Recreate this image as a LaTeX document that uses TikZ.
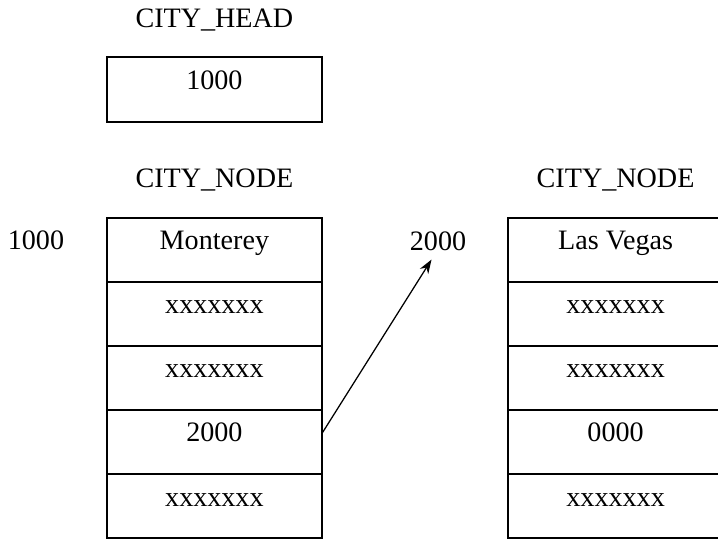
\documentclass[tikz,border=0pt]{standalone}
\usepackage{fontspec}
\setmainfont{Liberation Serif}
\usetikzlibrary{arrows.meta}

\tikzset{
	cell/.style={draw, line width=0.9pt, minimum width=5.375cm, minimum height=1.6cm,
		inner sep=0pt, text height=0.5cm, text depth=0.5cm},
	headcell/.style={cell, minimum height=1.625cm},
	lbl/.style={anchor=base, inner sep=0.2cm},
}

\begin{document}
\begin{tikzpicture}[font=\fontsize{20}{24}\selectfont]
	\useasboundingbox (0,0) rectangle (17.95,13.475);
	\clip (0,0) rectangle (17.95,13.475);
%	\draw [help lines, dashed] (0,0) grid (18,13);  % help lines

	% head
	\node [lbl] (headlbl) at (5.36,12.775) {CITY\_HEAD};
	\node [headcell] (head) at (5.36,11.2375) {1000};

	% titles
	\node [lbl] (nodelbl1) at (5.36,8.775) {CITY\_NODE};
	\node [lbl] (nodelbl2) at (15.39,8.775) {CITY\_NODE};

	% addresses
	\node [lbl] (addr1) at (0.9,7.225) {1000};
	\node [lbl] (addr2) at (10.95,7.2) {2000};

	% first node
	\node [cell] (m1) at (5.36,7.225) {Monterey};
	\node [cell] (m2) at (5.36,5.625) {xxxxxxx};
	\node [cell] (m3) at (5.36,4.025) {xxxxxxx};
	\node [cell] (m4) at (5.36,2.425) {2000};  % next
	\node [cell] (m5) at (5.36,0.825) {xxxxxxx};

	% second node
	\node [cell] (v1) at (15.39,7.225) {Las Vegas};
	\node [cell] (v2) at (15.39,5.625) {xxxxxxx};
	\node [cell] (v3) at (15.39,4.025) {xxxxxxx};
	\node [cell] (v4) at (15.39,2.425) {0000};  % next
	\node [cell] (v5) at (15.39,0.825) {xxxxxxx};

	% pointer
	\draw [line width=0.9pt, -{Stealth[length=10pt, width=7pt]}] (m4.5) -- (addr2.250);
\end{tikzpicture}
\end{document}
